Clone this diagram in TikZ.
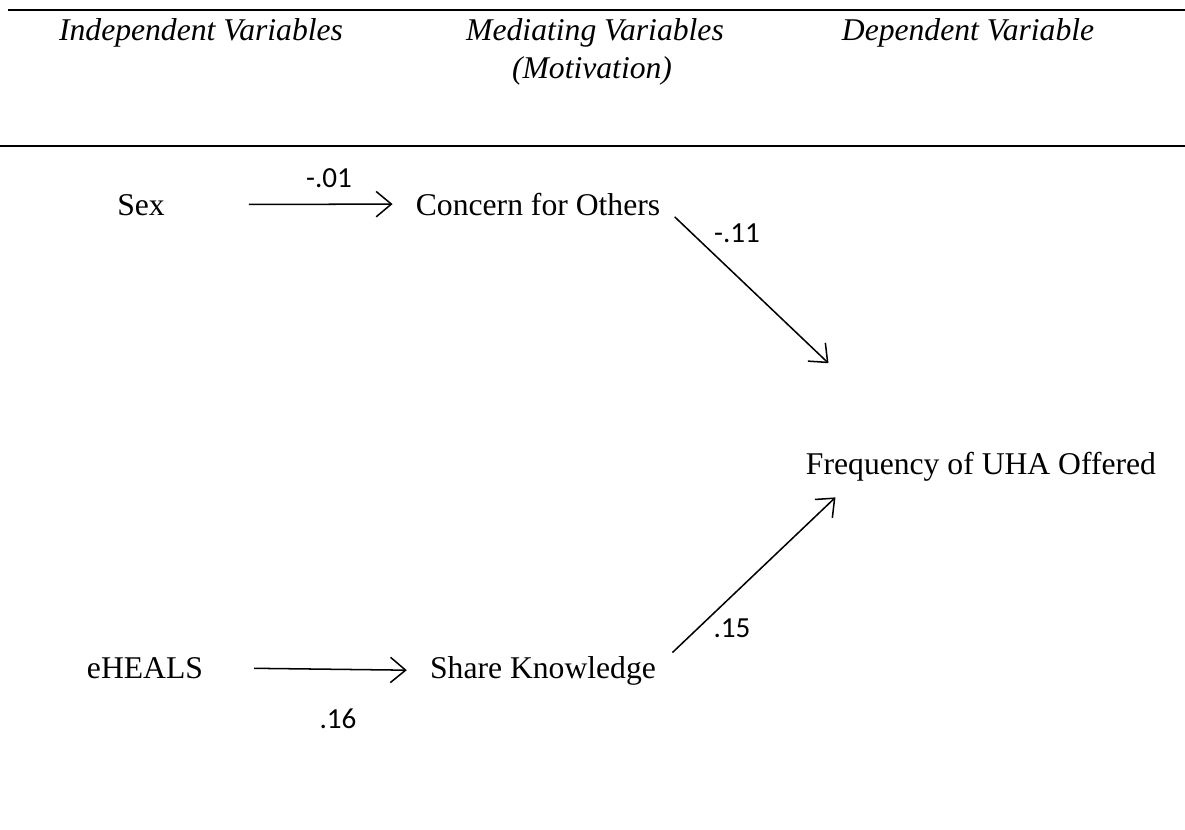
\documentclass[tikz,border=0pt]{standalone}
\usepackage{fontspec}
\setmainfont{Liberation Serif}
\newfontfamily\calibri{Carlito}
\usetikzlibrary{arrows.meta,positioning}

\begin{document}
\begin{tikzpicture}[x=0.395pt,y=-0.395pt,
  var/.style={inner sep=0pt,anchor=base,font=\fontsize{12.5}{15}\selectfont},
  head/.style={var,font=\fontsize{12.5}{15}\selectfont\itshape},
  coef/.style={inner sep=0pt,anchor=base,font=\calibri\fontsize{11.5}{13}\selectfont},
  link/.style={-{Straight Barb[length=6pt,width=10pt]},line width=0.6pt},
  rule/.style={line width=0.8pt}]
\useasboundingbox (0,0) rectangle (1185,829);
% header rows
\draw[rule] (8,10) -- (1185,10);
\draw[rule] (0,146) -- (1185,146);
\node[head] (indep) at (201,40) {Independent Variables};
\node[head] (medi) at (595,40) {Mediating Variables};
\node[head] (motiv) at (592,78) {(Motivation)};
\node[head] (dep) at (968,40) {Dependent Variable};
% variables
\node[var] (sex) at (141,215) {Sex};
\node[var] (concern) at (538,215) {Concern for Others};
\node[var] (freq) at (981,474) {Frequency of UHA Offered};
\node[var] (eheals) at (145,678) {eHEALS};
\node[var] (share) at (543,678) {Share Knowledge};
% paths
\draw[link,shorten <=33pt,shorten >=9pt] (sex.east) -- (concern.west);
\draw[link,shorten <=20pt,shorten >=9pt] (eheals.east) -- (share.west);
\draw[link] ([shift={(14,1)}]concern.south east) -- ([shift={(23,-88)}]freq.north west);
\draw[link] ([shift={(16,-3)}]share.north east) -- ([shift={(30,16)}]freq.south west);
% coefficients
\node[coef] (c1) at (329,187) {-.01};
\node[coef] (c2) at (737,242) {-.11};
\node[coef] (c3) at (732,637) {.15};
\node[coef] (c4) at (338,728) {.16};
\end{tikzpicture}
\end{document}
